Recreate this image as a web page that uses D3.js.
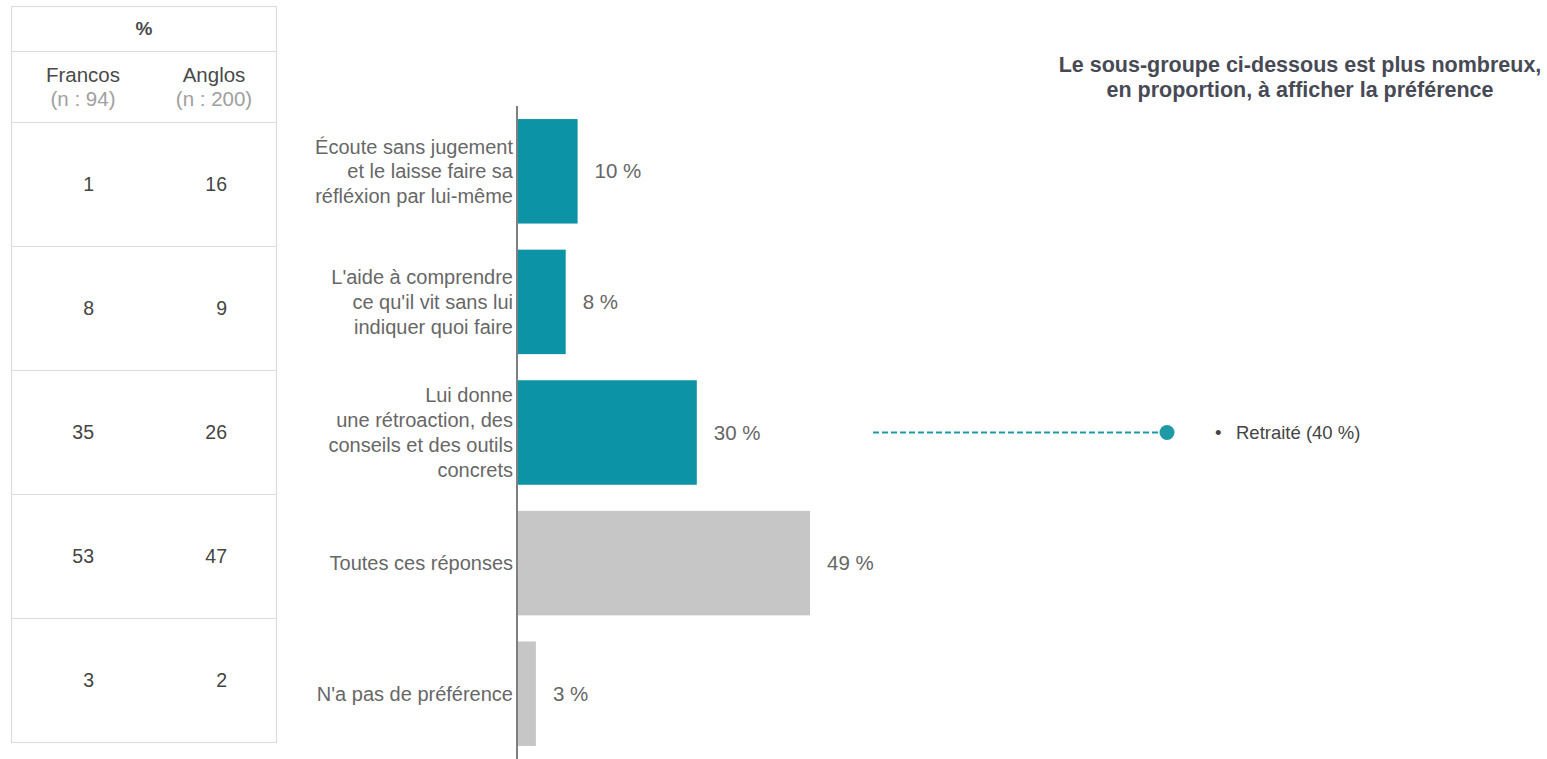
<!DOCTYPE html>
<html>
<head>
<meta charset="utf-8">
<script src="https://cdn.jsdelivr.net/npm/d3@7"></script>
<style>
  html, body { margin: 0; padding: 0; background: #fff; }
  svg { display: block; }
</style>
</head>
<body>
<svg id="chart" width="1547" height="759"></svg>
<script>
// Response categories (each line of a wrapped label is its own entry)
const categories = [
  ["Écoute sans jugement", "et le laisse faire sa", "réfléxion par lui-même"],
  ["L'aide à comprendre", "ce qu'il vit sans lui", "indiquer quoi faire"],
  ["Lui donne", "une rétroaction, des", "conseils et des outils", "concrets"],
  ["Toutes ces réponses"],
  ["N'a pas de préférence"]
];
const values = [10, 8, 30, 49, 3];
const highlighted = [true, true, true, false, false];

// Side table: percentages by language group
const groupNames = ["Francos", "Anglos"];
const groupSizes = ["(n : 94)", "(n : 200)"];
const francos = [1, 8, 35, 53, 3];
const anglos = [16, 9, 26, 47, 2];

// Sub-group callout
const calloutTitle = ["Le sous-groupe ci-dessous est plus nombreux,", "en proportion, à afficher la préférence"];
const calloutRow = 2;
const calloutLabel = "Retraité (40 %)";

const svg = d3.select("#chart");
const FONT = "Liberation Sans, Arial, sans-serif";
const TEAL = "#0c93a6";
const GREY = "#c6c6c6";

// ---------- table ----------
const tbl = { x0: 11, x1: 276, top: 6, headH: 45, subH: 71, rowH: 124 };
const tg = svg.append("g");
const rowsTop = tbl.top + tbl.headH + tbl.subH;
const tableBottom = rowsTop + tbl.rowH * francos.length;
const rowY = d3.scaleBand().domain(d3.range(francos.length)).range([rowsTop, tableBottom]);

tg.append("rect")
  .attr("x", tbl.x0 + 0.5).attr("y", tbl.top + 0.5)
  .attr("width", tbl.x1 - tbl.x0).attr("height", tableBottom - tbl.top)
  .attr("fill", "none").attr("stroke", "#dcdcdc").attr("stroke-width", 1.2);

const seps = [tbl.top + tbl.headH, rowsTop].concat(d3.range(1, francos.length).map(i => rowY(i)));
tg.selectAll("line.sep").data(seps).join("line")
  .attr("class", "sep")
  .attr("x1", tbl.x0).attr("x2", tbl.x1 + 1)
  .attr("y1", d => d + 0.5).attr("y2", d => d + 0.5)
  .attr("stroke", "#dcdcdc").attr("stroke-width", 1.2);

tg.append("text")
  .attr("x", 144).attr("y", tbl.top + tbl.headH / 2)
  .attr("dy", "0.35em").attr("text-anchor", "middle")
  .attr("font-family", FONT)
  .attr("font-weight", "bold").attr("font-size", 19).attr("fill", "#4a4a4a")
  .text("%");

const colCenters = [83, 214];
const colRight = [94, 227];
groupNames.forEach((g, i) => {
  tg.append("text")
    .attr("x", colCenters[i]).attr("y", 82)
    .attr("text-anchor", "middle")
    .attr("font-family", FONT)
    .attr("font-size", 20.5).attr("fill", "#4a4a4a")
    .text(g);
  tg.append("text")
    .attr("x", colCenters[i]).attr("y", 106)
    .attr("text-anchor", "middle")
    .attr("font-family", FONT)
    .attr("font-size", 20.5).attr("fill", "#a0a0a0")
    .text(groupSizes[i]);
});

[francos, anglos].forEach((col, ci) => {
  tg.selectAll(null).data(col).join("text")
    .attr("x", colRight[ci])
    .attr("y", (d, i) => rowY(i) + rowY.bandwidth() / 2)
    .attr("dy", "0.35em").attr("text-anchor", "end")
    .attr("font-family", FONT)
    .attr("font-size", 19.5).attr("fill", "#444")
    .text(d => d);
});

// ---------- bar chart ----------
const axisX = 517;
const x = d3.scaleLinear().domain([0, 100]).range([axisX + 1, axisX + 1 + 596]);
const y = d3.scaleBand().domain(d3.range(values.length)).range([106, 759])
  .paddingInner(0.2).paddingOuter(0.1);

const bg = svg.append("g");
bg.selectAll("rect.bar").data(values).join("rect")
  .attr("class", "bar")
  .attr("x", x(0))
  .attr("y", (d, i) => y(i))
  .attr("width", d => x(d) - x(0))
  .attr("height", y.bandwidth())
  .attr("fill", (d, i) => highlighted[i] ? TEAL : GREY);

bg.selectAll("text.val").data(values).join("text")
  .attr("class", "val")
  .attr("x", d => x(d) + 17)
  .attr("y", (d, i) => y(i) + y.bandwidth() / 2)
  .attr("dy", "0.35em")
  .attr("font-family", FONT)
  .attr("font-size", 20.5).attr("fill", "#666")
  .text(d => `${d} %`);

const lineH = 24.7;
categories.forEach((lines, i) => {
  const cy = y(i) + y.bandwidth() / 2;
  const t = bg.append("text")
    .attr("text-anchor", "end")
    .attr("font-family", FONT)
    .attr("font-size", 20).attr("fill", "#676767");
  lines.forEach((ln, k) => {
    t.append("tspan")
      .attr("x", axisX - 4)
      .attr("y", cy + (k - (lines.length - 1) / 2) * lineH)
      .attr("dy", "0.35em")
      .text(ln);
  });
});

const yAxis = d3.axisLeft(y).tickSize(0).tickFormat("");
const ax = bg.append("g").attr("transform", `translate(${axisX},0)`).call(yAxis);
ax.select(".domain").remove();
ax.append("line")
  .attr("x1", 0).attr("x2", 0).attr("y1", 106).attr("y2", 759)
  .attr("stroke", "#555").attr("stroke-width", 1.5);

// ---------- callout ----------
const cg = svg.append("g");
cg.selectAll(null).data(calloutTitle).join("text")
  .attr("x", 1300).attr("y", (d, i) => 72 + i * 25)
  .attr("text-anchor", "middle")
  .attr("font-family", FONT)
  .attr("font-weight", "bold").attr("font-size", 21.5).attr("fill", "#474a55")
  .text(d => d);

const cy = y(calloutRow) + y.bandwidth() / 2;
cg.append("line")
  .attr("x1", 873).attr("x2", 1167).attr("y1", cy).attr("y2", cy)
  .attr("stroke", "#1e9aa6").attr("stroke-width", 2)
  .attr("stroke-dasharray", "6,3");
cg.append("circle")
  .attr("cx", 1167).attr("cy", cy).attr("r", 7.5)
  .attr("fill", "#1e9aa6");
cg.append("text")
  .attr("x", 1215).attr("y", cy).attr("dy", "0.35em")
  .attr("font-family", FONT)
  .attr("font-size", 18.5).attr("fill", "#444")
  .text("•");
cg.append("text")
  .attr("x", 1236).attr("y", cy).attr("dy", "0.35em")
  .attr("font-family", FONT)
  .attr("font-size", 18.5).attr("fill", "#444")
  .text(calloutLabel);
</script>
</body>
</html>
